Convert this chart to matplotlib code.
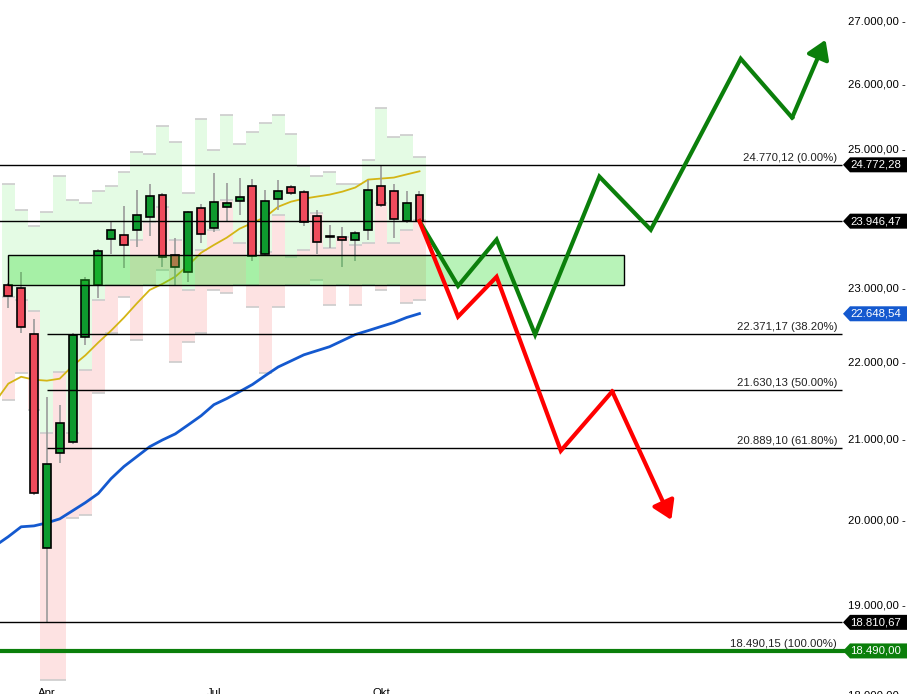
import numpy as np
import matplotlib
matplotlib.use("Agg")
import matplotlib.pyplot as plt
from matplotlib.patches import Rectangle, Polygon
from matplotlib.transforms import IdentityTransform, blended_transform_factory

plt.rcParams['font.family'] = ['Liberation Sans', 'DejaVu Sans']

# weekly candles, one per week (index 0 = mid March)
opens = [23045, 23003, 22380, 19666, 20832, 20968, 22340, 23045, 23696, 23752, 23823,
         24007, 24332, 23470, 23229, 24140, 23851, 24155, 24243, 24465, 23483, 24273,
         24450, 24376, 24022, 23738, 23724, 23681, 23823, 24465, 24391, 23951, 24332]
highs = [23074, 23229, 22583, 21536, 21445, 22393, 23158, 23554, 23936, 24170, 24406,
         24494, 24361, 23710, 24096, 24199, 24656, 24509, 24583, 24568, 24406, 24553,
         24480, 24406, 24111, 23894, 23865, 23809, 24553, 24772, 24494, 24391, 24391]
lows = [22732, 22394, 20314, 18811, 20709, 20943, 22232, 22867, 23483, 23286, 23583,
        23738, 23300, 23045, 23088, 23639, 23795, 23936, 24037, 23385, 23455, 24111,
        24332, 23879, 23483, 23568, 23300, 23385, 23681, 24150, 23710, 23920, 23946]
closes = [22894, 22475, 20339, 20697, 21212, 22366, 23116, 23526, 23824, 23611, 24037,
          24317, 23441, 23300, 24081, 23767, 24229, 24214, 24302, 23455, 24243, 24391,
          24361, 23936, 23653, 23724, 23681, 23781, 24406, 24185, 23979, 24214, 23946.47]

# light range columns behind the candles
bg_top = [24490, 24110, 23870, 24080, 24610, 24260, 24210, 24380, 24460, 24670, 24960,
          24930, 25360, 25110, 24360, 25470, 24990, 25520, 25080, 25270, 25410, 25520,
          25240, 24750, 24600, 24660, 24490, 24490, 24850, 25640, 25190, 25220, 24890]
bg_mid = [22880, 22840, 22680, 21080, 21870, 21080, 21900, 22840, 23040, 23040, 23680,
          23940, 24150, 23680, 22980, 23540, 23820, 24260, 23640, 23040, 23500, 24030,
          23440, 23540, 24060, 23570, 23720, 23610, 23640, 24210, 23640, 23820, 23960]
bg_bot = [21510, 21860, 21380, 18170, 18170, 20030, 20070, 21600, 22390, 22880, 22300,
          23040, 23260, 22000, 22270, 22390, 22980, 22930, 23040, 22740, 21860, 22740,
          23040, 23040, 23120, 22770, 23040, 22770, 23040, 22980, 23040, 22800, 22840]

# moving averages, start one week before the first candle
ma_fast = [21484, 21716, 21806, 21768, 21755, 21781, 21949, 22090, 22260, 22420, 22596,
           22790, 22975, 23060, 23160, 23318, 23495, 23606, 23710, 23838, 23922, 24007,
           24155, 24229, 24273, 24303, 24332, 24376, 24436, 24553, 24568, 24583, 24630, 24676]
ma_slow = [19700, 19806, 19924, 19935, 19971, 20019, 20117, 20216, 20327, 20510, 20660,
           20783, 20907, 20993, 21070, 21184, 21300, 21443, 21522, 21612, 21705, 21822,
           21935, 22015, 22096, 22150, 22204, 22285, 22367, 22420, 22475, 22529, 22598, 22651]
ma_slow_last = 22648.54

month_labels = ["Apr", "Jul", "Okt"]
month_pos = [3, 16, 29]

fib_levels = [24770.12, 22371.17, 21630.13, 20889.10, 18490.15]
fib_pct = ["0.00%", "38.20%", "50.00%", "61.80%", "100.00%"]
fib_start = 3

zone = [23040, 23470]
zone_x = [0, 47.9]

support_lines = [24772.28, 23946.47, 18810.67]
low_line = 18490.00

up_x = [32, 35, 38, 41, 46, 50, 57, 61, 63.6]
up_y = [23946.47, 23031, 23682, 22366, 24597, 23823, 26405, 25485, 26708]
down_x = [32, 35, 38, 43, 47, 51.6]
down_y = [23946.47, 22610, 23158, 20857, 21615, 20006]

yticks = [27000, 26000, 25000, 23000, 22000, 21000, 20000, 19000, 18000]


def de(v):
    s = f"{v:,.2f}"
    return s.replace(",", "X").replace(".", ",").replace("X", ".")


GREEN = "#0b7f0b"
BLUE = "#1459cf"

fig = plt.figure(figsize=(9.07, 6.94), dpi=100)
ax = fig.add_axes([0, 0, 1, 1])
ax.set_yscale("log")
ax.set_xlim(-0.646, 69.94)
ax.set_ylim(18017, 27355)
ax.axis("off")

x = np.arange(len(opens))
x_end = 64.88  # right end of the lines, before the price tags

# background columns
bt, bm, bb = np.array(bg_top), np.array(bg_mid), np.array(bg_bot)
ax.bar(x, bt - bm, bottom=bm, width=1.0, color="#e4fbe4", zorder=0)
ax.bar(x, bm - bb, bottom=bb, width=1.0, color="#fde2e2", zorder=0)
for arr in (bt, bm, bb):
    ax.hlines(arr, x - 0.5, x + 0.5, color="#cccccc", lw=1.2, zorder=0.5)

# horizontal lines
for lvl in support_lines:
    ax.hlines(lvl, -1, x_end, color="black", lw=1.0, zorder=5)
for lvl in fib_levels[1:4]:
    ax.hlines(lvl, fib_start, x_end, color="black", lw=1.0, zorder=5)
ax.plot([-1, 71], [low_line, low_line], color=GREEN, lw=3, zorder=5)
for lvl, pct in zip(fib_levels, fib_pct):
    ax.annotate(f"{de(lvl)} ({pct})", xy=(64.5, lvl), xytext=(0, 1.5),
                textcoords="offset points", ha="right", va="bottom",
                fontsize=8.2, color="#222222", zorder=6)

# moving averages
xm = np.arange(-1, len(ma_fast) - 1)
ax.plot(xm, ma_fast, color="#d4b515", lw=1.3, zorder=3)
ax.plot(xm, ma_slow, color=BLUE, lw=2.0, zorder=3)

# candles
o, h, l, c = map(np.array, (opens, highs, lows, closes))
ax.vlines(x, l, h, color="#9a9a9a", lw=1.2, zorder=3)
up = c >= o
cols = np.where(up, "#0e9a2e", "#ef4b5c")
ax.bar(x, np.maximum(np.abs(c - o), 8), bottom=np.minimum(o, c), width=0.62,
       color=cols, edgecolor="black", linewidth=1.2, zorder=3.5)

# zone
ax.add_patch(Rectangle((zone_x[0], zone[0]), zone_x[1] - zone_x[0], zone[1] - zone[0],
                       facecolor=(40 / 255, 220 / 255, 40 / 255, 0.33),
                       edgecolor="black", lw=1.0, zorder=4))

# projected paths
ax.plot(up_x[:-1], up_y[:-1], color=GREEN, lw=3, zorder=6, solid_joinstyle="miter")
ax.annotate("", xy=(up_x[-1], up_y[-1]), xytext=(up_x[-2], up_y[-2]),
            arrowprops=dict(arrowstyle="-|>,head_length=0.55,head_width=0.35",
                            color=GREEN, lw=3, shrinkA=0, shrinkB=0,
                            mutation_scale=20), zorder=6)
ax.plot(down_x[:-1], down_y[:-1], color="#ff0000", lw=3, zorder=6.5, solid_joinstyle="miter")
ax.annotate("", xy=(down_x[-1], down_y[-1]), xytext=(down_x[-2], down_y[-2]),
            arrowprops=dict(arrowstyle="-|>,head_length=0.55,head_width=0.35",
                            color="#ff0000", lw=3, shrinkA=0, shrinkB=0,
                            mutation_scale=20), zorder=6.5)

# price axis labels
tr = blended_transform_factory(ax.transAxes, ax.transData)
for t in yticks:
    ax.text(906 / 907, t, f"{de(t)} -", transform=tr, ha="right", va="center",
            fontsize=8.2, color="black", zorder=7)

for lab, pos in zip(month_labels, month_pos):
    ax.text(pos, 0.008, lab, transform=blended_transform_factory(ax.transData, ax.transAxes),
            ha="center", va="top", fontsize=8.2, color="black")

# price tags
fig.canvas.draw()
tags = [(support_lines[0], "black"), (support_lines[1], "black"),
        (ma_slow_last, BLUE), (support_lines[2], "black"), (low_line, GREEN)]
for val, col in tags:
    _, yd = ax.transData.transform((0, val))
    pts = [(843, yd), (850, yd + 7.5), (907, yd + 7.5), (907, yd - 7.5), (850, yd - 7.5)]
    ax.add_patch(Polygon(pts, closed=True, facecolor=col, edgecolor="none",
                         transform=IdentityTransform(), clip_on=False, zorder=8))
    ax.text(876, yd, de(val), transform=IdentityTransform(), ha="center", va="center",
            fontsize=8.2, color="white", zorder=9)

fig.savefig("out.png", dpi=100)
